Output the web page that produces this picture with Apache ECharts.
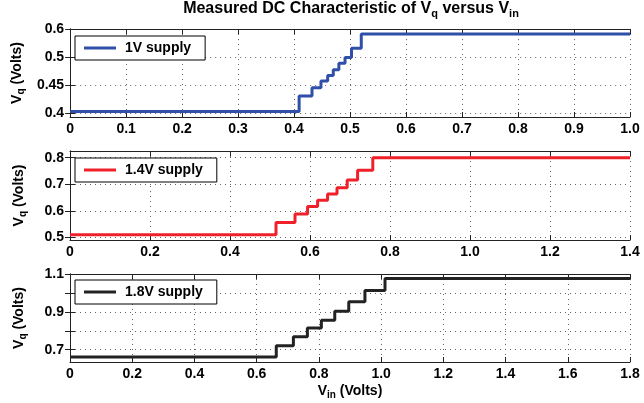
<!DOCTYPE html>
<html><head><meta charset="utf-8">
<script src="https://cdn.jsdelivr.net/npm/echarts@6/dist/echarts.min.js"></script>
<style>html,body{margin:0;padding:0;background:#fff}#c{width:644px;height:403px}</style>
</head><body><div id="c"></div>
<script>
// ---- data ----
const seriesNames = ['1V supply', '1.4V supply', '1.8V supply'];
const vin1 = [0, 0.409, 0.432, 0.448, 0.460, 0.470, 0.480, 0.491, 0.5025, 0.520, 1.0];
const vq1  = [0.403, 0.440, 0.460, 0.476, 0.489, 0.503, 0.518, 0.532, 0.554, 0.588, 0.588];
const vin2 = [0, 0.515, 0.5625, 0.594, 0.619, 0.644, 0.6675, 0.693, 0.719, 0.757, 1.4];
const vq2  = [0.51, 0.556, 0.588, 0.616, 0.640, 0.663, 0.687, 0.716, 0.753, 0.800, 0.800];
const vin3 = [0, 0.663, 0.718, 0.763, 0.808, 0.851, 0.896, 0.948, 1.0125, 1.8];
const vq3  = [0.662, 0.721, 0.768, 0.814, 0.856, 0.903, 0.954, 1.013, 1.076, 1.076];

const xTicks1 = [0, 0.1, 0.2, 0.3, 0.4, 0.5, 0.6, 0.7, 0.8, 0.9, 1.0];
const xLabels1 = ['0', '0.1', '0.2', '0.3', '0.4', '0.5', '0.6', '0.7', '0.8', '0.9', '1.0'];
const xTicks2 = [0, 0.2, 0.4, 0.6, 0.8, 1.0, 1.2, 1.4];
const xLabels2 = ['0', '0.2', '0.4', '0.6', '0.8', '1.0', '1.2', '1.4'];
const xTicks3 = [0, 0.2, 0.4, 0.6, 0.8, 1.0, 1.2, 1.4, 1.6, 1.8];
const xLabels3 = ['0', '0.2', '0.4', '0.6', '0.8', '1.0', '1.2', '1.4', '1.6', '1.8'];

const yTicks1 = [0.4, 0.4667, 0.5333, 0.6];
const yLabels1 = ['0.4', '0.45', '0.5', '0.6'];
const yTicks2 = [0.5, 0.6, 0.7, 0.8];
const yLabels2 = ['0.5', '0.6', '0.7', '0.8'];
const yTicks3 = [0.7, 0.8, 0.9, 1.0, 1.1];
const yLabelVals3 = [0.7, 0.9, 1.1];
const yLabels3 = ['0.7', '0.9', '1.1'];

const colors = ['#2f4fa8', '#f0202a', '#222222'];

// ---- styling / layout ----
const FONT = '"Liberation Sans", Arial, sans-serif';
const grids = [
  {left: 70, right: 14, top: 29, height: 88},
  {left: 70, right: 14, top: 151, height: 89},
  {left: 70, right: 14, top: 274, height: 88}
];
const xRanges = [[0, 1], [0, 1.4], [0, 1.8]];
const yRanges = [[0.39, 0.6], [0.49, 0.825], [0.635, 1.1]];
const xT = [xTicks1, xTicks2, xTicks3];
const xL = [xLabels1, xLabels2, xLabels3];
const yT = [yTicks1, yTicks2, yTicks3];
const yLV = [yTicks1, yTicks2, yLabelVals3];
const yL = [yLabels1, yLabels2, yLabels3];
const xs = [vin1, vin2, vin3];
const ys = [vq1, vq2, vq3];

function lookup(vals, labels) {
  return function (v) {
    for (let i = 0; i < vals.length; i++) if (Math.abs(vals[i] - v) < 1e-6) return labels[i];
    return '';
  };
}
const lblStyle = {fontFamily: FONT, fontWeight: 'bold', fontSize: 14, color: '#000'};
const gridLine = {show: true, lineStyle: {color: '#666', width: 1, type: [1, 4]}};
const axLine = {show: true, lineStyle: {color: '#222', width: 1}};

const xAxes = [], yAxes = [], series = [], legends = [];
const legendTops = [36, 158, 280];
for (let g = 0; g < 3; g++) {
  xAxes.push({
    type: 'value', gridIndex: g, min: xRanges[g][0], max: xRanges[g][1], position: 'bottom',
    axisLine: axLine,
    axisTick: {show: true, inside: true, length: 5, customValues: xT[g], lineStyle: {color: '#222'}},
    axisLabel: Object.assign({show: true, margin: 5, customValues: xT[g], formatter: lookup(xT[g], xL[g])}, lblStyle),
    splitLine: gridLine,
    name: g === 2 ? '{v|V}{s|in} (Volts)' : '',
    nameLocation: 'middle', nameGap: 20,
    nameTextStyle: {fontFamily: FONT, fontWeight: 'bold', fontSize: 14, color: '#000', lineHeight: 18,
      rich: {v: {fontFamily: FONT, fontWeight: 'bold', fontSize: 14, lineHeight: 18, color: '#000'},
             s: {fontFamily: FONT, fontWeight: 'bold', fontSize: 10, lineHeight: 10, verticalAlign: 'bottom', color: '#000'}}}
  });
  xAxes.push({
    type: 'value', gridIndex: g, min: xRanges[g][0], max: xRanges[g][1], position: 'top',
    axisLine: axLine,
    axisTick: {show: true, inside: true, length: 5, customValues: xT[g], lineStyle: {color: '#222'}},
    axisLabel: {show: false}, splitLine: {show: false}
  });
  yAxes.push({
    type: 'value', gridIndex: g, min: yRanges[g][0], max: yRanges[g][1], position: 'left',
    axisLine: axLine,
    axisTick: {show: true, inside: true, length: 5, customValues: yT[g], lineStyle: {color: '#222'}},
    axisLabel: Object.assign({show: true, margin: 6, customValues: yLV[g], formatter: lookup(yLV[g], yL[g])}, lblStyle),
    splitLine: gridLine,
    name: '{v|V}{s|q} (Volts)', nameLocation: 'middle', nameGap: 42, nameRotate: 90,
    nameTextStyle: {fontFamily: FONT, fontWeight: 'bold', fontSize: 14, color: '#000', lineHeight: 18,
      rich: {v: {fontFamily: FONT, fontWeight: 'bold', fontSize: 14, lineHeight: 18, color: '#000'},
             s: {fontFamily: FONT, fontWeight: 'bold', fontSize: 10, lineHeight: 10, verticalAlign: 'bottom', color: '#000'}}}
  });
  yAxes.push({
    type: 'value', gridIndex: g, min: yRanges[g][0], max: yRanges[g][1], position: 'right',
    axisLine: axLine,
    axisTick: {show: true, inside: true, length: 5, customValues: yT[g], lineStyle: {color: '#222'}},
    axisLabel: {show: false}, splitLine: {show: false}
  });
  series.push({
    name: seriesNames[g], type: 'line', step: 'end', xAxisIndex: g * 2, yAxisIndex: g * 2,
    data: xs[g].map((x, i) => [x, ys[g][i]]),
    showSymbol: false, symbol: 'none', color: colors[g],
    lineStyle: {color: colors[g], width: 3}, animation: false, z: 3
  });
  legends.push({
    data: [seriesNames[g]], left: 75, top: legendTops[g], orient: 'horizontal',
    icon: 'rect', itemWidth: 32, itemHeight: 3,
    backgroundColor: '#fff', borderColor: '#000', borderWidth: 1,
    padding: [5, 14, 5, 9], selectedMode: false,
    textStyle: {fontFamily: FONT, fontWeight: 'bold', fontSize: 14, color: '#000', padding: [0, 0, 0, 4]}
  });
}

const chart = echarts.init(document.getElementById('c'), null, {renderer: 'canvas'});
chart.setOption({
  backgroundColor: '#fff',
  animation: false,
  title: {
    text: 'Measured DC Characteristic of {v|V}{s|q} versus {v|V}{s|in}',
    left: 351, top: -1, textAlign: 'center', padding: 0,
    textStyle: {fontFamily: FONT, fontWeight: 'bold', fontSize: 16, color: '#000', lineHeight: 20,
      rich: {v: {fontFamily: FONT, fontWeight: 'bold', fontSize: 16, lineHeight: 20, color: '#000'},
             s: {fontFamily: FONT, fontWeight: 'bold', fontSize: 11, lineHeight: 11, verticalAlign: 'bottom', color: '#000'}}}
  },
  legend: legends,
  grid: grids,
  xAxis: xAxes,
  yAxis: yAxes,
  series: series
});
</script></body></html>
